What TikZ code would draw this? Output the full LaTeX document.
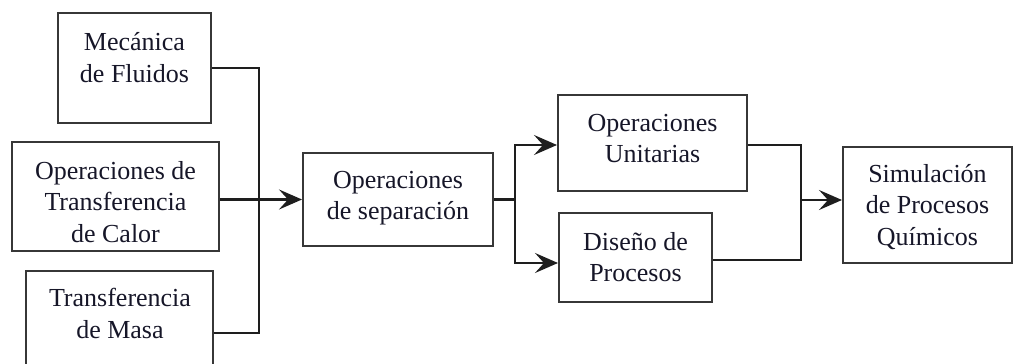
\documentclass[tikz,border=0pt]{standalone}
\usepackage{fontspec}
\setmainfont{Liberation Serif}
\usetikzlibrary{arrows.meta}
\definecolor{boxline}{RGB}{55,55,55}
\definecolor{conn}{RGB}{30,30,30}
\definecolor{txtc}{RGB}{22,22,40}
\begin{document}
\begin{tikzpicture}[x=1pt,y=-1pt,
  box/.style={draw=boxline,line width=2pt,minimum width=#1,inner sep=0pt},
  lbl/.style={align=center,text=txtc,font=\fontsize{26}{31.5}\selectfont,inner sep=0pt},
  conline/.style={draw=conn,line width=2.2pt},
  arr/.style={conline,-{Stealth[length=23pt,width=20pt,inset=9pt]}}]
\useasboundingbox (0,0) rectangle (1013,364);
\clip (0,0) rectangle (1013,364);
% boxes
\node[box=153pt,minimum height=110pt] (m) at (134.5,68) {};
\node[box=207pt,minimum height=109pt] (c) at (115.5,196.5) {};
\node[box=187pt,minimum height=124pt] (t) at (119.5,333) {};
\node[box=190pt,minimum height=93pt] (s) at (398,199.5) {};
\node[box=189pt,minimum height=96pt] (u) at (652.5,143) {};
\node[box=153pt,minimum height=89pt] (d) at (635.5,257.5) {};
\node[box=169pt,minimum height=116pt] (q) at (927.5,205) {};
% labels
\node[lbl] (mt) at (134.5,57.5) {Mecánica\\de Fluidos};
\node[lbl] (ct) at (115.5,202) {Operaciones de\\Transferencia\\de Calor};
\node[lbl] (tt) at (120,313.5) {Transferencia\\de Masa};
\node[lbl] (st) at (398,198) {Operaciones\\de separación};
\node[lbl] (ut) at (652.5,138.5) {Operaciones\\Unitarias};
\node[lbl] (dt) at (635.5,257) {Diseño de\\Procesos};
\node[lbl] (qt) at (927.5,207) {Simulación\\de Procesos\\Químicos};
% junctions
\coordinate (j0) at (259,200);
\coordinate (j1) at (515,199.5);
\coordinate (j2) at (801,200);
% connectors
\draw[conline] (m.east) -| (j0);
\draw[conline] (t.east) -| (j0);
\draw[arr] (c.east |- s.west) -- (s.west);
\draw[conline] (s.east) -- (j1);
\draw[arr] (j1) |- ([yshift=-2pt]u.west);
\draw[arr] (j1) |- ([yshift=-5.5pt]d.west);
\draw[conline] ([yshift=-2pt]u.east) -| (j2);
\draw[conline] ([yshift=-2.5pt]d.east) -| (j2);
\draw[arr] (j2) -- (q.west |- j2);
\end{tikzpicture}
\end{document}
